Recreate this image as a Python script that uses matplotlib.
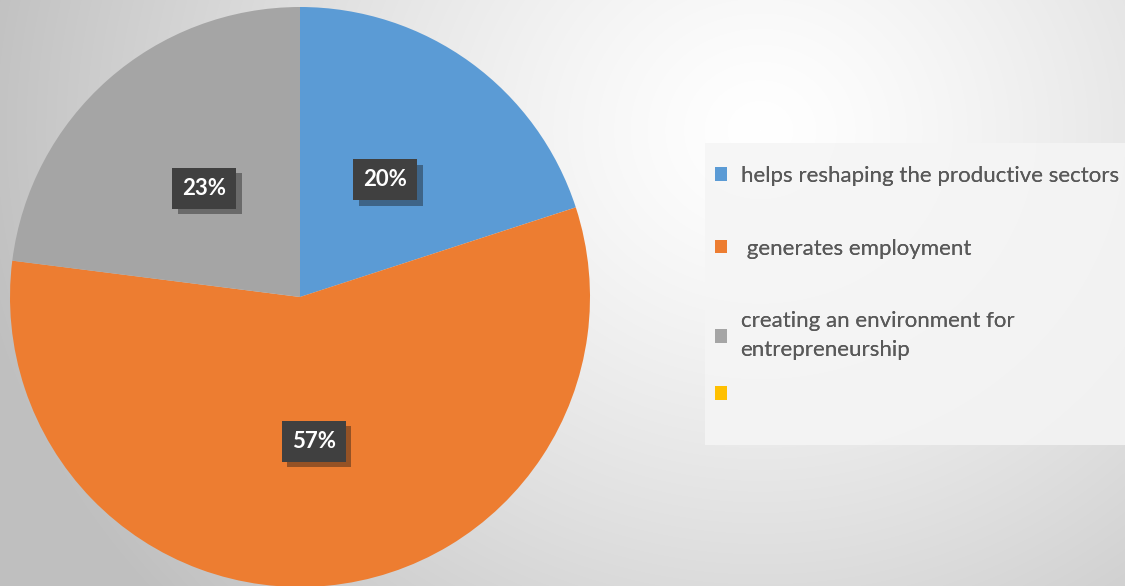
import numpy as np
import matplotlib
matplotlib.use("Agg")
import matplotlib.pyplot as plt
import matplotlib.patheffects as pe
from matplotlib.patches import Rectangle

labels = ["helps reshaping the productive sectors",
          " generates employment",
          "creating an environment for\nentrepreneurship",
          ""]
values = [20, 57, 23, 0]
colors = ["#5b9bd5", "#ed7d31", "#a5a5a5", "#ffc000"]

plt.rcParams['font.family'] = ['Lato', 'DejaVu Sans']

W, H = 1125, 586
fig = plt.figure(figsize=(W/100, H/100), dpi=100)

# background gradient
bg = fig.add_axes([0, 0, 1, 1])
yy, xx = np.mgrid[0:H, 0:W]
d = np.sqrt(((xx-760)/1.0)**2 + ((yy-130)/0.9)**2)
shade = 1 - 0.25*np.clip(d/800, 0, 1)**1.3
bg.imshow(np.dstack([shade]*3), extent=[0, W, H, 0], aspect='auto')
bg.axis('off')

# legend area box
fig.patches.append(Rectangle((705/W, 1-445/H), 420/W, 302/H, transform=fig.transFigure,
                             facecolor="#f5f5f5", edgecolor="none", alpha=0.85, zorder=1))

ax = fig.add_axes([0, 0, 1, 1])

def pct(p):
    return "%d%%" % round(p) if p > 0.5 else ""

wedges, texts, autotexts = ax.pie(values, colors=colors, startangle=90, counterclock=False,
                                  center=(300, H-297), radius=290, autopct=pct,
                                  pctdistance=0.5, frame=True,
                                  textprops=dict(color="white", fontsize=16, fontweight="bold"))
ax.set_xlim(0, W)
ax.set_ylim(0, H)
ax.axis('off')

for t in autotexts:
    if t.get_text():
        t.set_bbox(dict(boxstyle="square,pad=0.45", facecolor="#404040", edgecolor="none"))
        t.get_bbox_patch().set_path_effects([pe.withSimplePatchShadow(offset=(4, -4), alpha=0.4)])

legkw = dict(loc="upper left", borderaxespad=0, frameon=False, fontsize=16,
             labelcolor="#595959", handlelength=0.55, handleheight=0.55,
             handletextpad=0.6, labelspacing=2.37, borderpad=0)
leg = fig.legend(wedges[:3], labels[:3], bbox_to_anchor=(715/W, 1-166/H), **legkw)
for t in leg.get_texts():
    t.set_linespacing(1.55)
fig.add_artist(leg)
# last (empty) entry sits closer to the two-line label
leg2 = fig.legend(wedges[3:], labels[3:], bbox_to_anchor=(715/W, 1-385/H), **legkw)

fig.savefig("out.png", dpi=100)
